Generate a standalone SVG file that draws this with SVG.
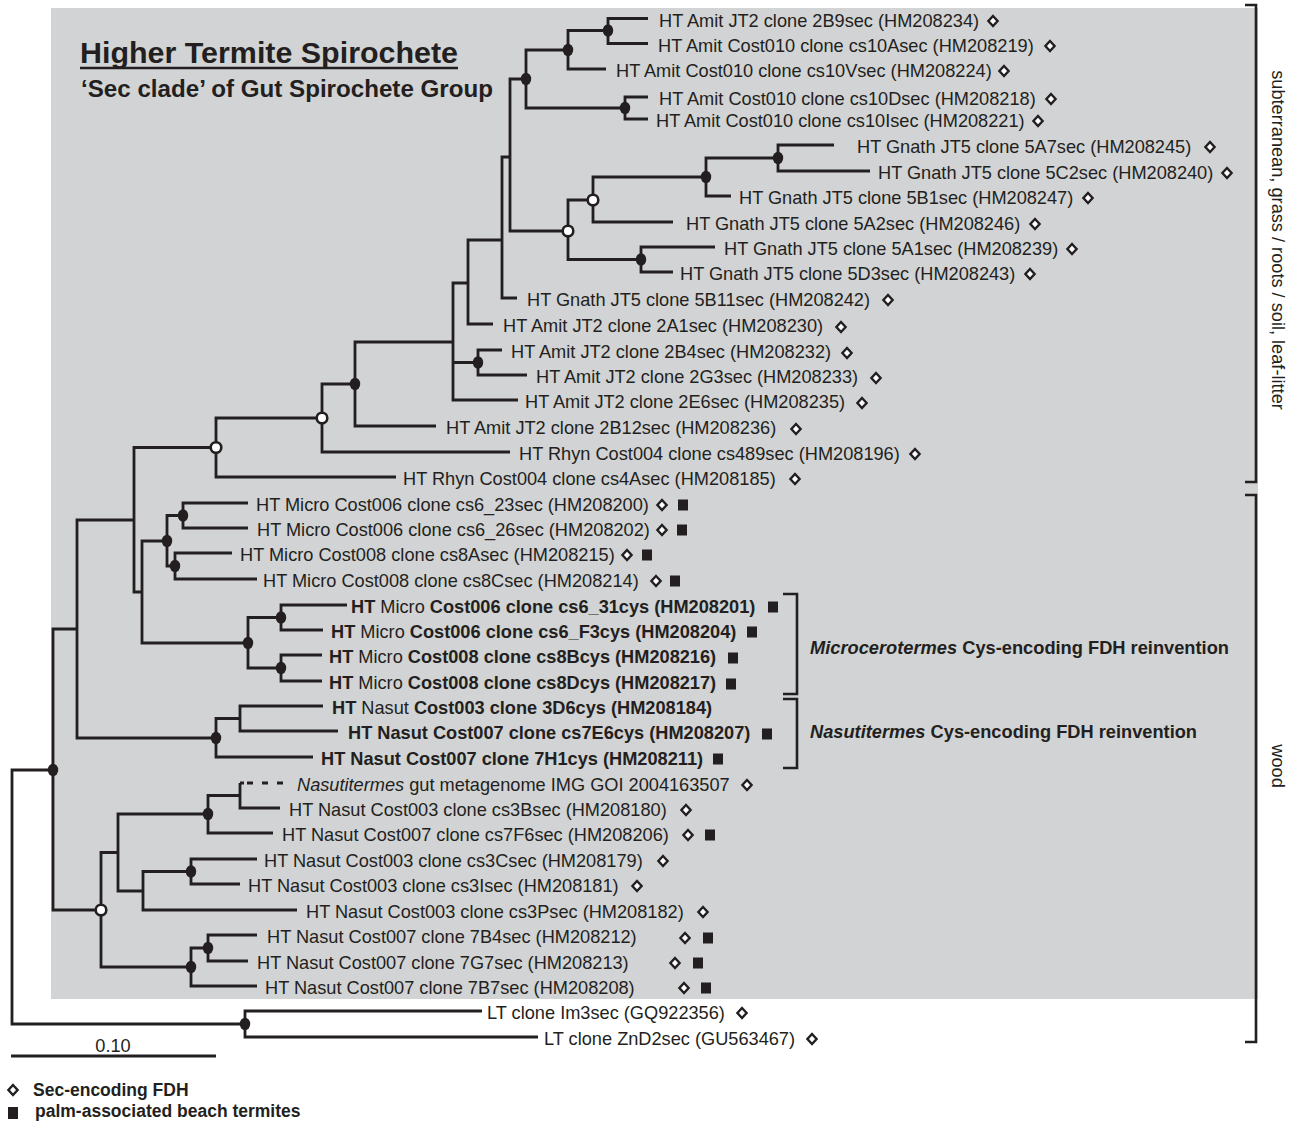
<svg xmlns="http://www.w3.org/2000/svg" width="1296" height="1123" viewBox="0 0 1296 1123">
<style>
text{font-family:"Liberation Sans",Arial,sans-serif;fill:#231f20}
.lb{font-size:18.2px}
.b{font-weight:bold}
.i{font-style:italic}
.br{fill:none;stroke:#231f20;stroke-width:2.8;stroke-linejoin:miter}
.dot{fill:#231f20}
.odot{fill:#fff;stroke:#231f20;stroke-width:2.6}
.dia{fill:#fff;stroke:#231f20;stroke-width:2.4}
.sq{fill:#231f20}
.brk{fill:none;stroke:#231f20;stroke-width:2.6}
</style>
<defs>
<ellipse id="fd" class="dot" rx="5.2" ry="6.2"/>
<circle id="od" class="odot" r="5.3"/>
<path id="dia" class="dia" d="M0,-5 L4.6,0 L0,5 L-4.6,0 Z"/>
<rect id="sq" class="sq" x="-5" y="-5.5" width="10" height="11"/>
</defs>
<rect id="background" x="0" y="0" width="1296" height="1123" fill="#fff"/>
<rect id="panel" x="51" y="8" width="1207" height="991" fill="#d1d3d4"/>

<g id="title">
<text class="b" x="80" y="63" font-size="29" textLength="378" lengthAdjust="spacingAndGlyphs">Higher Termite Spirochete</text>
<line x1="80" y1="68" x2="458" y2="68" stroke="#231f20" stroke-width="2.6"/>
<text class="b" x="81" y="97" font-size="23" textLength="412" lengthAdjust="spacingAndGlyphs">‘Sec clade’ of Gut Spirochete Group</text>
</g>

<g id="connectors">
<path class="br" d="M648 18.5 H608 V43.5 H648"/>
<path class="br" d="M608 30.5 H568 V69 H606"/>
<path class="br" d="M648 97 H625 V119 H648"/>
<path class="br" d="M568 50 H526 V108 H625"/>
<path class="br" d="M526 79 H510 V231 H568"/>
<path class="br" d="M834 145 H778 V171 H870"/>
<path class="br" d="M778 158 H706 V196 H731"/>
<path class="br" d="M706 177 H593 V222 H673"/>
<path class="br" d="M715 247 H641 V272 H673"/>
<path class="br" d="M593 200 H568 V259.5 H641"/>
<path class="br" d="M510 157 H502 V298 H517"/>
<path class="br" d="M502 240 H468 V324 H493"/>
<path class="br" d="M468 283 H453 V400 H518 M453 362.5 H478"/>
<path class="br" d="M502 350 H478 V375 H527"/>
<path class="br" d="M453 342 H355 V426 H436"/>
<path class="br" d="M355 384 H322 V452 H510"/>
<path class="br" d="M322 418 H216 V477 H396"/>
<path class="br" d="M216 447.5 H134 V592 H142"/>
<path class="br" d="M167 541 H142 V643 H248"/>
<path class="br" d="M183 515.5 H167 V566 H175"/>
<path class="br" d="M248 503 H183 V528 H248"/>
<path class="br" d="M232 553 H175 V579 H257"/>
<path class="br" d="M281 617.5 H248 V668 H281"/>
<path class="br" d="M347 605 H281 V630 H323"/>
<path class="br" d="M322 655 H281 V681 H322"/>
<path class="br" d="M134 520 H77 V738 H216"/>
<path class="br" d="M240 718.5 H216 V757 H313"/>
<path class="br" d="M323 706 H240 V731 H338"/>
<path class="br" d="M77 629 H53 V910 H101"/>
<path class="br" d="M118 852.5 H101 V967 H191"/>
<path class="br" d="M208 814 H118 V891 H143"/>
<path class="br" d="M240 795.5 H208 V833 H273"/>
<path class="br" d="M240 783 V808 H280"/>
<path class="br" d="M240 783 H283" stroke-dasharray="4 3 6 9 6 9 6"/>
<path class="br" d="M191 871.5 H143 V910 H297"/>
<path class="br" d="M257 859 H191 V884 H240"/>
<path class="br" d="M208 948 H191 V986 H257"/>
<path class="br" d="M257 935 H208 V961 H248"/>
<path class="br" d="M482 1011 H245 V1037 H538"/>
<path class="br" d="M53 770 H12 V1024 H245"/>
</g>

<g id="internal-nodes">
<use href="#fd" x="608" y="30.5"/>
<use href="#fd" x="568" y="50"/>
<use href="#fd" x="625" y="108"/>
<use href="#fd" x="526" y="79"/>
<use href="#fd" x="778" y="158"/>
<use href="#fd" x="706" y="177"/>
<use href="#fd" x="641" y="259.5"/>
<use href="#fd" x="478" y="362.5"/>
<use href="#fd" x="355" y="384"/>
<use href="#fd" x="183" y="515.5"/>
<use href="#fd" x="167" y="541"/>
<use href="#fd" x="175" y="566"/>
<use href="#fd" x="248" y="643"/>
<use href="#fd" x="281" y="617.5"/>
<use href="#fd" x="281" y="668"/>
<use href="#fd" x="216" y="738"/>
<use href="#fd" x="53" y="770"/>
<use href="#fd" x="208" y="814"/>
<use href="#fd" x="191" y="871.5"/>
<use href="#fd" x="191" y="967"/>
<use href="#fd" x="208" y="948"/>
<use href="#fd" x="245" y="1024"/>
<use href="#od" x="593" y="200"/>
<use href="#od" x="568" y="231"/>
<use href="#od" x="322" y="418"/>
<use href="#od" x="216" y="447.5"/>
<use href="#od" x="101" y="910"/>
</g>

<g id="leaf-2B9sec"><text class="lb" x="659" y="26.5">HT Amit JT2 clone 2B9sec (HM208234)</text><use href="#dia" x="993" y="21"/></g>
<g id="leaf-cs10Asec"><text class="lb" x="658" y="51.5">HT Amit Cost010 clone cs10Asec (HM208219)</text><use href="#dia" x="1050" y="46"/></g>
<g id="leaf-cs10Vsec"><text class="lb" x="616" y="77">HT Amit Cost010 clone cs10Vsec (HM208224)</text><use href="#dia" x="1004" y="71"/></g>
<g id="leaf-cs10Dsec"><text class="lb" x="659" y="105">HT Amit Cost010 clone cs10Dsec (HM208218)</text><use href="#dia" x="1051" y="99"/></g>
<g id="leaf-cs10Isec"><text class="lb" x="656" y="127">HT Amit Cost010 clone cs10Isec (HM208221)</text><use href="#dia" x="1038" y="121"/></g>
<g id="leaf-5A7sec"><text class="lb" x="857" y="153">HT Gnath JT5 clone 5A7sec (HM208245)</text><use href="#dia" x="1210" y="147"/></g>
<g id="leaf-5C2sec"><text class="lb" x="878" y="179">HT Gnath JT5 clone 5C2sec (HM208240)</text><use href="#dia" x="1227" y="173"/></g>
<g id="leaf-5B1sec"><text class="lb" x="739" y="204">HT Gnath JT5 clone 5B1sec (HM208247)</text><use href="#dia" x="1088" y="198"/></g>
<g id="leaf-5A2sec"><text class="lb" x="686" y="230">HT Gnath JT5 clone 5A2sec (HM208246)</text><use href="#dia" x="1035" y="224"/></g>
<g id="leaf-5A1sec"><text class="lb" x="724" y="255">HT Gnath JT5 clone 5A1sec (HM208239)</text><use href="#dia" x="1072" y="249"/></g>
<g id="leaf-5D3sec"><text class="lb" x="680" y="280">HT Gnath JT5 clone 5D3sec (HM208243)</text><use href="#dia" x="1030" y="274"/></g>
<g id="leaf-5B11sec"><text class="lb" x="527" y="306">HT Gnath JT5 clone 5B11sec (HM208242)</text><use href="#dia" x="888" y="300"/></g>
<g id="leaf-2A1sec"><text class="lb" x="503" y="332">HT Amit JT2 clone 2A1sec (HM208230)</text><use href="#dia" x="841" y="327"/></g>
<g id="leaf-2B4sec"><text class="lb" x="511" y="358">HT Amit JT2 clone 2B4sec (HM208232)</text><use href="#dia" x="847" y="353"/></g>
<g id="leaf-2G3sec"><text class="lb" x="536" y="383">HT Amit JT2 clone 2G3sec (HM208233)</text><use href="#dia" x="876" y="378"/></g>
<g id="leaf-2E6sec"><text class="lb" x="525" y="408">HT Amit JT2 clone 2E6sec (HM208235)</text><use href="#dia" x="862" y="403"/></g>
<g id="leaf-2B12sec"><text class="lb" x="446" y="434">HT Amit JT2 clone 2B12sec (HM208236)</text><use href="#dia" x="796" y="429"/></g>
<g id="leaf-cs489sec"><text class="lb" x="519" y="460">HT Rhyn Cost004 clone cs489sec (HM208196)</text><use href="#dia" x="915" y="454"/></g>
<g id="leaf-cs4Asec"><text class="lb" x="403" y="485">HT Rhyn Cost004 clone cs4Asec (HM208185)</text><use href="#dia" x="795" y="479"/></g>
<g id="leaf-cs6_23sec"><text class="lb" x="256" y="511">HT Micro Cost006 clone cs6_23sec (HM208200)</text><use href="#dia" x="662" y="505"/><use href="#sq" x="683" y="505"/></g>
<g id="leaf-cs6_26sec"><text class="lb" x="257" y="536">HT Micro Cost006 clone cs6_26sec (HM208202)</text><use href="#dia" x="662" y="530"/><use href="#sq" x="682" y="530"/></g>
<g id="leaf-cs8Asec"><text class="lb" x="240" y="561">HT Micro Cost008 clone cs8Asec (HM208215)</text><use href="#dia" x="627" y="555"/><use href="#sq" x="647" y="555"/></g>
<g id="leaf-cs8Csec"><text class="lb" x="263" y="587">HT Micro Cost008 clone cs8Csec (HM208214)</text><use href="#dia" x="656" y="581"/><use href="#sq" x="675" y="581"/></g>
<g id="leaf-cs6_31cys"><text class="lb" x="351" y="613"><tspan class="b">HT</tspan> Micro <tspan class="b">Cost006 clone cs6_31cys (HM208201)</tspan></text><use href="#sq" x="773" y="607"/></g>
<g id="leaf-cs6_F3cys"><text class="lb" x="331" y="638"><tspan class="b">HT</tspan> Micro <tspan class="b">Cost006 clone cs6_F3cys (HM208204)</tspan></text><use href="#sq" x="752" y="632"/></g>
<g id="leaf-cs8Bcys"><text class="lb" x="329" y="663"><tspan class="b">HT</tspan> Micro <tspan class="b">Cost008 clone cs8Bcys (HM208216)</tspan></text><use href="#sq" x="733" y="658"/></g>
<g id="leaf-cs8Dcys"><text class="lb" x="329" y="689"><tspan class="b">HT</tspan> Micro <tspan class="b">Cost008 clone cs8Dcys (HM208217)</tspan></text><use href="#sq" x="731" y="684"/></g>
<g id="leaf-3D6cys"><text class="lb" x="332" y="714"><tspan class="b">HT</tspan> Nasut <tspan class="b">Cost003 clone 3D6cys (HM208184)</tspan></text></g>
<g id="leaf-cs7E6cys"><text class="lb b" x="348" y="739">HT Nasut Cost007 clone cs7E6cys (HM208207)</text><use href="#sq" x="767" y="734"/></g>
<g id="leaf-7H1cys"><text class="lb b" x="321" y="765">HT Nasut Cost007 clone 7H1cys (HM208211)</text><use href="#sq" x="718" y="759"/></g>
<g id="leaf-metagenome"><text class="lb" x="297" y="791"><tspan class="i">Nasutitermes</tspan> gut metagenome IMG GOI 2004163507</text><use href="#dia" x="747" y="785"/></g>
<g id="leaf-cs3Bsec"><text class="lb" x="289" y="816">HT Nasut Cost003 clone cs3Bsec (HM208180)</text><use href="#dia" x="686" y="810"/></g>
<g id="leaf-cs7F6sec"><text class="lb" x="282" y="841">HT Nasut Cost007 clone cs7F6sec (HM208206)</text><use href="#dia" x="688" y="835"/><use href="#sq" x="710" y="835"/></g>
<g id="leaf-cs3Csec"><text class="lb" x="264" y="867">HT Nasut Cost003 clone cs3Csec (HM208179)</text><use href="#dia" x="663" y="861"/></g>
<g id="leaf-cs3Isec"><text class="lb" x="248" y="892">HT Nasut Cost003 clone cs3Isec (HM208181)</text><use href="#dia" x="637" y="886"/></g>
<g id="leaf-cs3Psec"><text class="lb" x="306" y="918">HT Nasut Cost003 clone cs3Psec (HM208182)</text><use href="#dia" x="703" y="912"/></g>
<g id="leaf-7B4sec"><text class="lb" x="267" y="943">HT Nasut Cost007 clone 7B4sec (HM208212)</text><use href="#dia" x="685" y="938"/><use href="#sq" x="708" y="938"/></g>
<g id="leaf-7G7sec"><text class="lb" x="257" y="969">HT Nasut Cost007 clone 7G7sec (HM208213)</text><use href="#dia" x="675" y="963"/><use href="#sq" x="698" y="963"/></g>
<g id="leaf-7B7sec"><text class="lb" x="265" y="994">HT Nasut Cost007 clone 7B7sec (HM208208)</text><use href="#dia" x="684" y="988"/><use href="#sq" x="706" y="988"/></g>
<g id="leaf-Im3sec"><text class="lb" x="487" y="1019">LT clone Im3sec (GQ922356)</text><use href="#dia" x="742" y="1013"/></g>
<g id="leaf-ZnD2sec"><text class="lb" x="544" y="1045">LT clone ZnD2sec (GU563467)</text><use href="#dia" x="812" y="1039"/></g>

<g id="bracket-micro">
<path class="brk" d="M783 594 H797 V694 H783"/>
<text class="lb b" x="810" y="654" textLength="419" lengthAdjust="spacingAndGlyphs"><tspan class="i">Microcerotermes</tspan> Cys-encoding FDH reinvention</text>
</g>
<g id="bracket-nasut">
<path class="brk" d="M783 699 H797 V768 H783"/>
<text class="lb b" x="810" y="738" textLength="387" lengthAdjust="spacingAndGlyphs"><tspan class="i">Nasutitermes</tspan> Cys-encoding FDH reinvention</text>
</g>
<g id="bracket-subterranean">
<path class="brk" d="M1245 5 H1256 V482 H1245"/>
<text class="lb" transform="translate(1272,240) rotate(90)" text-anchor="middle">subterranean, grass / roots / soil, leaf-litter</text>
</g>
<g id="bracket-wood">
<path class="brk" d="M1245 495 H1256 V1042 H1245"/>
<text class="lb" transform="translate(1272,766) rotate(90)" text-anchor="middle">wood</text>
</g>

<g id="scale-bar">
<line x1="11" y1="1056" x2="216" y2="1056" stroke="#231f20" stroke-width="2.8"/>
<text class="lb" x="113" y="1052" text-anchor="middle">0.10</text>
</g>

<g id="legend">
<use href="#dia" x="13" y="1090"/>
<text class="b" x="33" y="1096" font-size="17.5">Sec-encoding FDH</text>
<rect class="sq" x="8" y="1107" width="10" height="12"/>
<text class="b" x="35" y="1117" font-size="17.5">palm-associated beach termites</text>
</g>
</svg>
